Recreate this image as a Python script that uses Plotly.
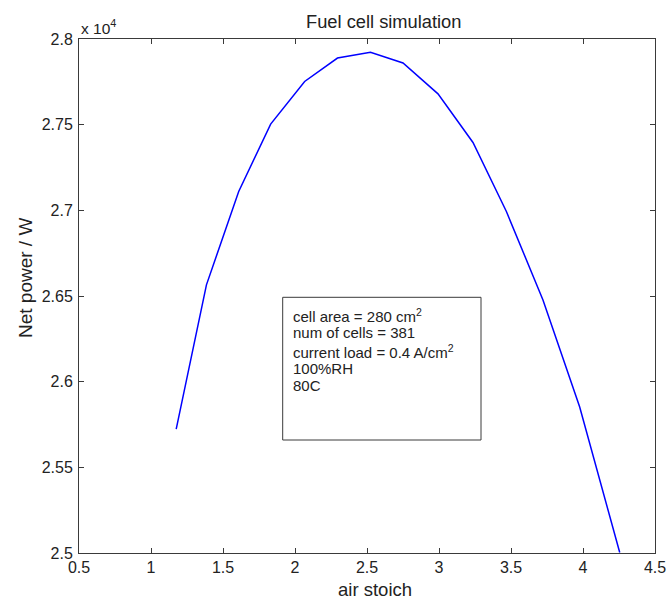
import plotly.graph_objects as go

# Simulated net stack power versus cathode air stoichiometry
air_stoich = [1.175, 1.385, 1.609, 1.831, 2.067, 2.295, 2.524, 2.750,
              2.993, 3.236, 3.468, 3.722, 3.977, 4.255]
net_power_w = [25723, 26565, 27110, 27503, 27752, 27889, 27922, 27860,
               27680, 27396, 26993, 26477, 25852, 25003]

x_ticks = [0.5, 1, 1.5, 2, 2.5, 3, 3.5, 4, 4.5]
x_tick_text = ["0.5", "1", "1.5", "2", "2.5", "3", "3.5", "4", "4.5"]
y_ticks = [25000, 25500, 26000, 26500, 27000, 27500, 28000]
y_tick_text = ["2.5", "2.55", "2.6", "2.65", "2.7", "2.75", "2.8"]

info_lines = [
    "cell area = 280 cm<sup>2</sup>",
    "num of cells = 381",
    "current load = 0.4 A/cm<sup>2</sup>",
    "100%RH",
    "80C",
]

W, H = 670, 600
ML, MR, MT, MB = 79, 15, 39, 47
PW, PH = W - ML - MR, H - MT - MB
FONT = "Liberation Sans, Arial, Helvetica, sans-serif"
INK = "#222222"
AXIS = "#3a3a3a"


def px_x(p):
    return (p - ML) / PW


def px_y(p):
    return (H - MB - p) / PH


fig = go.Figure()
fig.add_trace(go.Scatter(
    x=air_stoich, y=net_power_w, mode="lines",
    line=dict(color="#0000ff", width=1.5),
    showlegend=False, hoverinfo="x+y",
))

axis_common = dict(
    showgrid=False, zeroline=False, showline=True, linecolor=AXIS, linewidth=1,
    mirror="allticks", ticks="inside", ticklen=5, tickwidth=1, tickcolor=AXIS,
    tickfont=dict(family=FONT, size=16, color=INK), automargin=False,
)

fig.update_xaxes(range=[0.5, 4.5], tickvals=x_ticks, ticktext=x_tick_text, **axis_common)
fig.update_yaxes(range=[25000, 28000], tickvals=y_ticks, ticktext=y_tick_text,
                 ticklabelstandoff=2, **axis_common)

annotations = [
    # exponent marker for the y axis
    dict(x=0, y=px_y(27), xref="paper", yref="paper", xanchor="left", yanchor="middle",
         text="x 10<sup>4</sup>", showarrow=False, font=dict(family=FONT, size=15.5, color=INK)),
    # axis titles
    dict(x=px_x(375), y=px_y(589.5), xref="paper", yref="paper", xanchor="center", yanchor="middle",
         text="air stoich", showarrow=False, font=dict(family=FONT, size=18.5, color=INK)),
    dict(x=px_x(25), y=px_y(278), xref="paper", yref="paper", xanchor="center", yanchor="middle",
         text="Net power / W", textangle=-90, showarrow=False,
         font=dict(family=FONT, size=19, color=INK)),
    # chart title
    dict(x=px_x(383), y=px_y(22), xref="paper", yref="paper", xanchor="center", yanchor="middle",
         text="Fuel cell simulation", showarrow=False, font=dict(family=FONT, size=18.3, color=INK)),
]

# operating-condition notes inside the box
line_centres = [315, 332, 351.5, 369, 385.5]
for txt, yc in zip(info_lines, line_centres):
    annotations.append(dict(
        x=px_x(290.5), y=px_y(yc), xref="paper", yref="paper", xanchor="left", yanchor="middle",
        text=txt, showarrow=False, font=dict(family=FONT, size=15, color=INK),
    ))

fig.add_shape(type="rect", xref="paper", yref="paper",
              x0=px_x(282.7), x1=px_x(481), y0=px_y(440), y1=px_y(297.3),
              line=dict(color=AXIS, width=1), fillcolor="rgba(0,0,0,0)")

fig.update_layout(
    width=W, height=H, autosize=False,
    margin=dict(l=ML, r=MR, t=MT, b=MB, pad=0, autoexpand=False),
    paper_bgcolor="white", plot_bgcolor="white",
    annotations=annotations,
    font=dict(family=FONT, color=INK),
)

fig.write_html("out.html")
